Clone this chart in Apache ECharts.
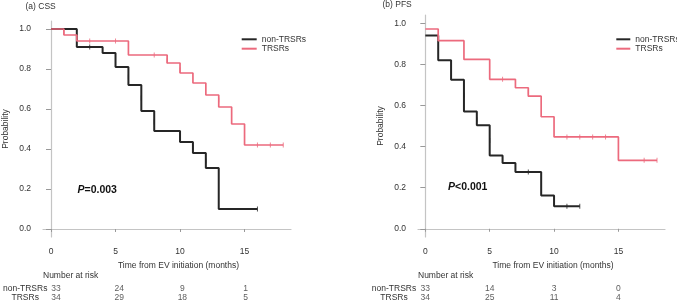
<!DOCTYPE html>
<html><head><meta charset="utf-8">
<script src="https://cdn.jsdelivr.net/npm/echarts@6/dist/echarts.min.js"></script>
<style>html,body{margin:0;padding:0;background:#fff}#c{width:677px;height:302px}</style>
</head><body><div id="c"></div>
<script>
// ---- data ----
const groupNames = ['non-TRSRs', 'TRSRs'];
const xTicks = [0, 5, 10, 15];
const yTicks = [0, 0.2, 0.4, 0.6, 0.8, 1.0];

// (a) CSS
const cssNonTime = [0, 2, 4, 5, 6, 7, 8, 10, 11, 12, 13, 16];
const cssNonSurv = [1.0, 0.91, 0.88, 0.81, 0.72, 0.59, 0.49, 0.435, 0.38, 0.305, 0.10, 0.10];
const cssNonCensT = [3, 6, 7, 8, 11, 12, 16];
const cssNonCensS = [0.91, 0.76, 0.655, 0.535, 0.41, 0.34, 0.10];
const cssTrTime = [0, 1, 2, 6, 9, 10, 11, 12, 13, 14, 15, 18];
const cssTrSurv = [1.0, 0.97, 0.94, 0.87, 0.83, 0.78, 0.73, 0.67, 0.61, 0.525, 0.42, 0.42];
const cssTrCensT = [1, 3, 5, 8, 9, 10, 13, 16, 17, 18];
const cssTrCensS = [0.985, 0.94, 0.94, 0.87, 0.84, 0.795, 0.645, 0.42, 0.42, 0.42];

// (b) PFS
const pfsNonTime = [0, 1, 2, 3, 4, 5, 6, 7, 9, 10, 12];
const pfsNonSurv = [0.94, 0.82, 0.725, 0.57, 0.504, 0.357, 0.32, 0.276, 0.162, 0.109, 0.109];
const pfsNonCensT = [3, 4, 5, 6, 8, 11, 12];
const pfsNonCensS = [0.65, 0.53, 0.43, 0.34, 0.276, 0.109, 0.109];
const pfsTrTime = [0, 1, 3, 5, 7, 8, 9, 10, 15, 18];
const pfsTrSurv = [0.972, 0.915, 0.824, 0.727, 0.686, 0.645, 0.545, 0.447, 0.333, 0.333];
const pfsTrCensT = [6, 8, 11, 12, 13, 14, 17, 18];
const pfsTrCensS = [0.727, 0.665, 0.447, 0.447, 0.447, 0.447, 0.333, 0.333];

// numbers at risk
const riskTimes = [0, 5, 10, 15];
const cssRiskNon = [33, 24, 9, 1];
const cssRiskTr = [34, 29, 18, 5];
const pfsRiskNon = [33, 14, 3, 0];
const pfsRiskTr = [34, 25, 11, 4];

const pValueCSS = '0.003';
const pValuePFS = '<0.001';

// ---- styling ----
const FONT = "'Liberation Sans', Arial, sans-serif";
const BLACK = '#262626';
const RED = '#ec6a7d';
const AXIS = '#c4c4c4';
const TXT = '#333333';
const FS = 8.5;

const zip = (a, b) => a.map((v, i) => [v, b[i]]);

function plotX(gi, min, max) {
  return {
    type: 'value', gridIndex: gi, min: min, max: max,
    axisLine: { show: true, lineStyle: { color: AXIS, width: 1.2 } },
    axisTick: { show: true, customValues: xTicks, length: 3, lineStyle: { color: '#999' } },
    axisLabel: { customValues: xTicks, margin: 10, fontSize: FS, color: TXT, fontFamily: FONT },
    splitLine: { show: false },
    name: 'Time from EV initiation (months)', nameLocation: 'middle', nameGap: 18,
    nameTextStyle: { fontSize: FS, color: TXT, fontFamily: FONT, padding: [0, 0, 0, 23] }
  };
}
function plotY(gi) {
  return {
    type: 'value', gridIndex: gi, min: -0.04, max: 1.04,
    axisLine: { show: true, lineStyle: { color: AXIS, width: 1.2 } },
    axisTick: { show: true, customValues: yTicks, length: 5, lineStyle: { color: '#999' } },
    axisLabel: { customValues: yTicks, margin: 12, fontSize: FS, color: TXT, fontFamily: FONT,
      formatter: v => v.toFixed(1) },
    splitLine: { show: false },
    name: 'Probability', nameLocation: 'middle', nameGap: 33,
    nameTextStyle: { fontSize: FS, color: TXT, fontFamily: FONT }
  };
}
function riskX(gi, min, max) {
  return { type: 'value', gridIndex: gi, min: min, max: max, show: false };
}
function riskY(gi, margin) {
  return {
    type: 'category', gridIndex: gi, data: groupNames, inverse: true,
    axisLine: { show: false }, axisTick: { show: false }, splitLine: { show: false },
    axisLabel: { interval: 0, hideOverlap: false, align: 'center', margin: margin,
      fontSize: FS, color: TXT, fontFamily: FONT }
  };
}
function kmLine(name, gi, t, s, color, w) {
  return { type: 'line', name: name, xAxisIndex: gi, yAxisIndex: gi, step: 'end', symbol: 'none',
    data: zip(t, s), lineStyle: { color: color, width: w }, itemStyle: { color: color }, z: 3 };
}
function censor(name, gi, t, s, color) {
  return { type: 'scatter', name: name + ' censored', xAxisIndex: gi, yAxisIndex: gi,
    symbol: 'rect', symbolSize: [1, 5], data: zip(t, s), itemStyle: { color: color }, z: 4 };
}
function risk(gi, vals, row) {
  return { type: 'scatter', xAxisIndex: gi, yAxisIndex: gi, symbolSize: 1,
    itemStyle: { color: 'rgba(0,0,0,0)' },
    labelLayout: { hideOverlap: false },
    data: riskTimes.map((t, i) => [t, row, vals[i]]),
    label: { show: true, position: 'inside', formatter: p => String(p.value[2]),
      fontSize: FS, color: TXT, fontFamily: FONT } };
}
function pTitle(p, left, top) {
  return { text: '{i|P}{b|' + p + '}', left: left, top: top, padding: 0,
    textStyle: { rich: {
      i: { fontStyle: 'italic', fontWeight: 'bold', fontSize: 10.5, color: '#111', fontFamily: FONT },
      b: { fontWeight: 'bold', fontSize: 10.5, color: '#111', fontFamily: FONT } } } };
}
function plainTitle(text, left, top) {
  return { text: text, left: left, top: top, padding: 0,
    textStyle: { fontSize: FS, fontWeight: 'normal', color: TXT, fontFamily: FONT } };
}
function legend(left, w) {
  return { left: left, top: 34.6, orient: 'vertical', itemWidth: w, itemHeight: 2, icon: 'rect',
    itemGap: 0, padding: 0, data: groupNames, selectedMode: false,
    textStyle: { fontSize: FS, lineHeight: 9.4, color: TXT, fontFamily: FONT } };
}

const LMIN = -0.62, LMAX = 18.6, RMIN = -0.57, RMAX = 18.62;

const option = {
  animation: false,
  backgroundColor: '#fff',
  textStyle: { fontFamily: FONT },
  title: [
    plainTitle('(a) CSS', 25.5, 2),
    plainTitle('(b) PFS', 382.5, 0),
    plainTitle('Number at risk', 43, 271),
    plainTitle('Number at risk', 418, 271),
    pTitle('=' + pValueCSS, 77.5, 184.5),
    pTitle(pValuePFS, 448, 181.5)
  ],
  legend: [legend(241.7, 15), legend(616.3, 14)],
  grid: [
    { left: 43, top: 21, width: 248, height: 216 },
    { left: 418, top: 15, width: 247, height: 222 },
    { left: 43, top: 284.2, width: 248, height: 18 },
    { left: 418, top: 284.2, width: 247, height: 18 }
  ],
  xAxis: [plotX(0, LMIN, LMAX), plotX(1, RMIN, RMAX), riskX(2, LMIN, LMAX), riskX(3, RMIN, RMAX)],
  yAxis: [plotY(0), plotY(1), riskY(2, 23), riskY(3, 24)],
  series: [
    kmLine('non-TRSRs', 0, cssNonTime, cssNonSurv, BLACK, 2),
    kmLine('TRSRs', 0, cssTrTime, cssTrSurv, RED, 1.7),
    censor('non-TRSRs', 0, cssNonCensT, cssNonCensS, BLACK),
    censor('TRSRs', 0, cssTrCensT, cssTrCensS, RED),
    kmLine('non-TRSRs', 1, pfsNonTime, pfsNonSurv, BLACK, 2),
    kmLine('TRSRs', 1, pfsTrTime, pfsTrSurv, RED, 1.7),
    censor('non-TRSRs', 1, pfsNonCensT, pfsNonCensS, BLACK),
    censor('TRSRs', 1, pfsTrCensT, pfsTrCensS, RED),
    risk(2, cssRiskNon, 0), risk(2, cssRiskTr, 1),
    risk(3, pfsRiskNon, 0), risk(3, pfsRiskTr, 1)
  ]
};
const chart = echarts.init(document.getElementById('c'), null, { renderer: 'canvas' });
chart.setOption(option);
</script></body></html>
